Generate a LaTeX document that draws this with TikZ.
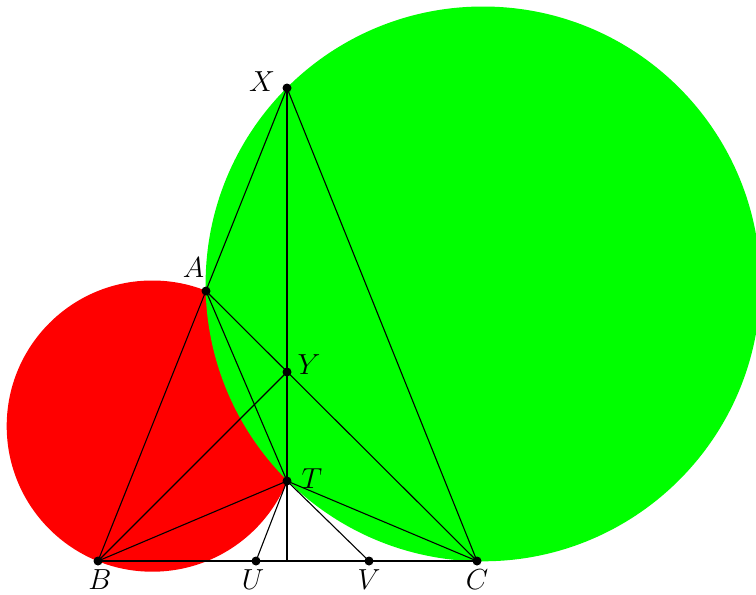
\RequirePackage{fix-cm}
\documentclass[tikz,border=0pt]{standalone}
\begin{document}
\begin{tikzpicture}[x=1pt,y=-1pt,
  dot/.style={circle,fill=black,inner sep=0pt,minimum size=9pt},
  lbl/.style={inner sep=0pt,font=\fontsize{29}{35}\selectfont},
  seg/.style={line width=1.1pt}]
\useasboundingbox (0,0) rectangle (756,595);
\fill[red] (152.3,426.1) circle[radius=145.6pt];
\fill[green] (483,283.9) circle[radius=277.4pt];
\node[dot] (X) at (287,88) {};
\node[dot] (A) at (206,291) {};
\node[dot] (Y) at (287,372) {};
\node[dot] (T) at (287,481) {};
\node[dot] (B) at (98,561) {};
\node[dot] (U) at (256,561) {};
\node[dot] (V) at (369,561) {};
\node[dot] (C) at (477,561) {};
\coordinate (F) at (287,561);
\draw[seg] (X.center) -- (B.center);
\draw[seg] (X.center) -- (C.center);
\draw[seg] (X.center) -- (F);
\draw[seg] (A.center) -- (C.center);
\draw[seg] (A.center) -- (T.center);
\draw[seg] (B.center) -- (Y.center);
\draw[seg] (B.center) -- (T.center);
\draw[seg] (T.center) -- (C.center);
\draw[seg] (B.center) -- (C.center);
\draw[seg] (T.center) -- (U.center);
\draw[seg] (T.center) -- (V.center);
\node[lbl] (lX) at (262,81.5) {$X$};
\node[lbl] (lA) at (193.5,267.5) {$A$};
\node[lbl] (lY) at (309,365) {$Y$};
\node[lbl] (lT) at (312,479) {$T$};
\node[lbl] (lB) at (100,579.5) {$B$};
\node[lbl] (lU) at (253,579.5) {$U$};
\node[lbl] (lV) at (369,579.5) {$V$};
\node[lbl] (lC) at (477,579.5) {$C$};
\end{tikzpicture}
\end{document}
